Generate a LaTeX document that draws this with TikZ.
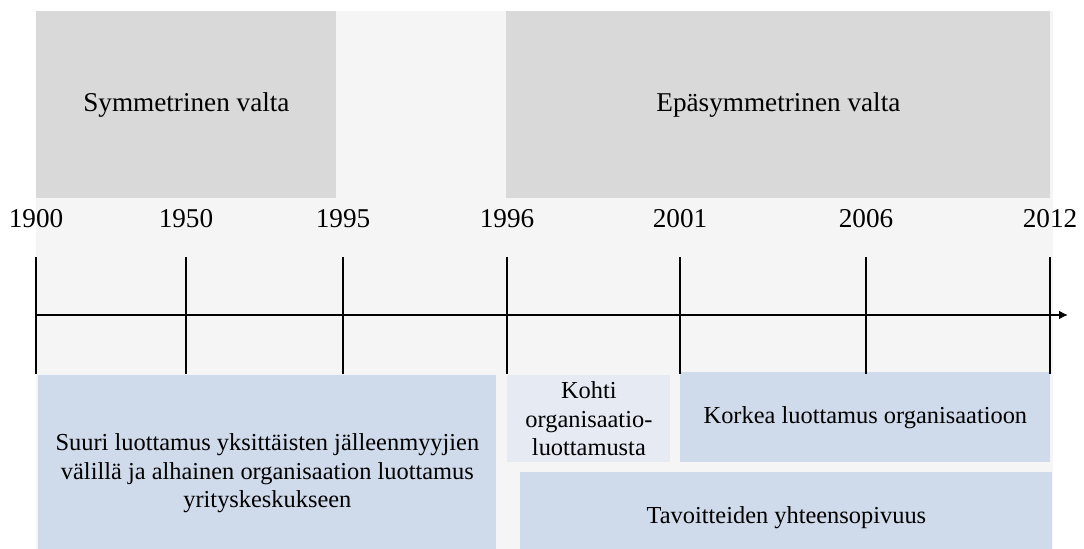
\documentclass[tikz,border=0pt]{standalone}
\usepackage{fontspec}
\setmainfont{Liberation Serif}
\usepackage{tikz}
\usetikzlibrary{arrows.meta}

\definecolor{eragray}{RGB}{217,217,217}
\definecolor{panelgray}{RGB}{245,245,245}
\definecolor{trustblue}{RGB}{207,218,234}
\definecolor{paleblue}{RGB}{229,234,243}

\begin{document}
\begin{tikzpicture}[x=0.5pt,y=-0.5pt,
					every node/.style = {font=\fontsize{13.6}{14.4}\selectfont, inner sep=0pt}]

\tikzstyle{era}=[fill=eragray, anchor=north west, minimum height=93.5pt]
\tikzstyle{trust}=[fill=trustblue, anchor=north west, align=center,
	font=\fontsize{12.2}{14.2}\selectfont]
\tikzstyle{tick}=[line width=1.1pt]

\clip (0,0) rectangle (1084,549);
\fill[panelgray] (36,11) rectangle (1053,549);

% power periods
\node[era, minimum width=150pt] (sym) at (36,11) {Symmetrinen valta};
\node[era, minimum width=272pt] (epasym) at (506,11) {Epäsymmetrinen valta};

% trust phases
\node[trust, minimum width=229pt, minimum height=98pt] (dealers) at (38,375)
	{Suuri luottamus yksittäisten jälleenmyyjien\\välillä ja alhainen organisaation luottamus\\yrityskeskukseen};
\node[trust, fill=paleblue, minimum width=81.5pt, minimum height=43.5pt] (towards) at (507,375)
	{Kohti\\organisaatio-\\luottamusta};
\node[trust, minimum width=185pt, minimum height=45pt] (high) at (680,372)
	{Korkea luottamus organisaatioon};
\node[trust, minimum width=266pt, minimum height=45pt] (goals) at (520,472)
	{Tavoitteiden yhteensopivuus};

% time axis
\coordinate (axisstart) at (36,315);
\coordinate (axisend) at (1068,315);
\draw[tick, -{Latex[length=4.5pt,width=4.5pt]}] (axisstart) -- (axisend);

\foreach \yr/\xx in {1900/36, 1950/186, 1995/343, 1996/507, 2001/680, 2006/866, 2012/1050} {
	\node (y\yr) at (\xx,219) {\yr};
	\coordinate (top\yr) at (\xx,257);
	\coordinate (bot\yr) at (\xx,374);
	\draw[tick] (top\yr) -- (bot\yr);
}
\end{tikzpicture}
\end{document}
